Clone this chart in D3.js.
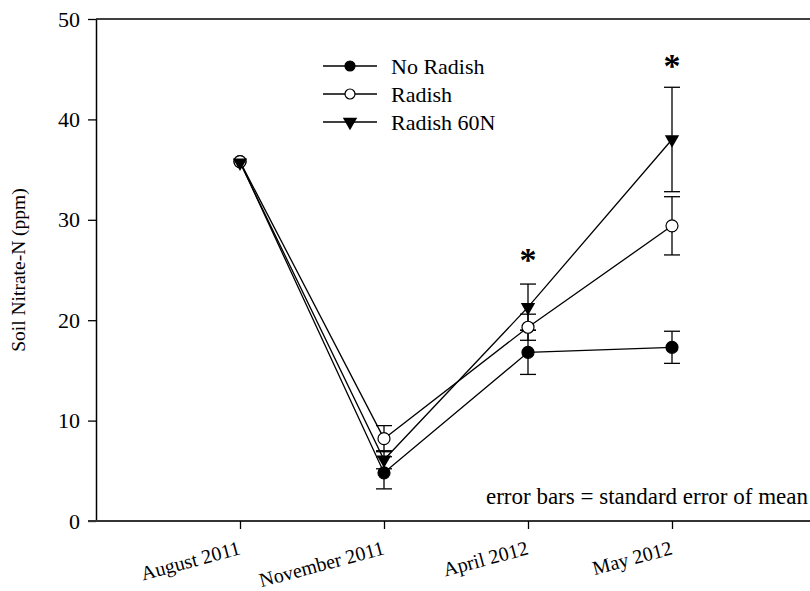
<!DOCTYPE html>
<html>
<head>
<meta charset="utf-8">
<script src="https://cdn.jsdelivr.net/npm/d3@7"></script>
<style>
    body { margin: 0; background: white; }
</style>
</head>
<body>
<div id="canvas"></div>
<script>
"use strict"

// DATA

let dates = ["August 2011", "November 2011", "April 2012", "May 2012"];
let seriesNames = ["No Radish", "Radish", "Radish 60N"];

let noRadish = [35.8, 4.8, 16.8, 17.3];
let noRadishSE = [0, 1.6, 2.2, 1.6];

let radish = [35.8, 8.2, 19.3, 29.4];
let radishSE = [0, 1.3, 1.3, 2.9];

let radish60N = [35.7, 6.1, 21.3, 38.0];
let radish60NSE = [0, 0.9, 2.3, 5.2];

let yTicks = [0, 10, 20, 30, 40, 50];

let starDates = ["April 2012", "May 2012"];
let starValues = [26.3, 45.6]; // centre of the asterisk, in ppm

let note = "error bars = standard error of mean";

// CANVAS

let svgWidth = 810;
let svgHeight = 591;

let leftEdge = 96;
let rightEdge = 816; // the frame runs off the right side
let topEdge = 19;
let bottomEdge = 521;

let serif = "'Liberation Serif', 'Times New Roman', serif";

let svg = d3.select("#canvas")
    .append("svg")
    .attr("width", svgWidth)
    .attr("height", svgHeight)
    .style("font-family", serif);

// SCALES

let xScale = d3.scalePoint()
    .domain(dates)
    .range([leftEdge, rightEdge])
    .padding(1);

let yScale = d3.scaleLinear()
    .domain([0, 50])
    .range([bottomEdge, topEdge]);

// series table built from the arrays
let series = [
    { name: seriesNames[0], values: noRadish, se: noRadishSE, symbol: "filled" },
    { name: seriesNames[1], values: radish, se: radishSE, symbol: "open" },
    { name: seriesNames[2], values: radish60N, se: radish60NSE, symbol: "triangle" }
];

series.forEach(function (s) {
    s.points = dates.map(function (d, i) {
        return { date: d, value: s.values[i], se: s.se[i] };
    });
});

// FRAME AND AXES

svg.append("line")
    .attr("x1", leftEdge)
    .attr("y1", topEdge)
    .attr("x2", rightEdge)
    .attr("y2", topEdge)
    .attr("stroke", "black")
    .attr("stroke-width", 1.3);

let yAxis = svg.append("g")
    .attr("transform", "translate(" + leftEdge + ",0)")
    .call(d3.axisLeft(yScale).tickValues(yTicks).tickSize(8).tickPadding(8).tickSizeOuter(0));

yAxis.select(".domain").attr("stroke-width", 1.5);
yAxis.selectAll(".tick line").attr("stroke-width", 1.3);
yAxis.selectAll(".tick text")
    .style("font-family", serif)
    .style("font-size", "22px");

let xAxis = svg.append("g")
    .attr("transform", "translate(0," + bottomEdge + ")")
    .call(d3.axisBottom(xScale).tickSize(8).tickSizeOuter(0));

xAxis.select(".domain")
    .attr("d", "M" + (leftEdge - 8) + ",0H" + rightEdge)
    .attr("stroke", "#333")
    .attr("stroke-width", 2.2);
xAxis.selectAll(".tick line").attr("stroke-width", 1.3);
xAxis.selectAll(".tick text")
    .style("font-family", serif)
    .style("font-size", "20px")
    .attr("text-anchor", "end")
    .attr("x", 0)
    .attr("y", 0)
    .attr("dy", 0)
    .attr("transform", "translate(1,33) rotate(-15)");

// y axis title
svg.append("text")
    .attr("transform", "translate(25," + ((topEdge + bottomEdge) / 2) + ") rotate(-90)")
    .attr("text-anchor", "middle")
    .style("font-family", serif)
    .style("font-size", "19.5px")
    .text("Soil Nitrate-N (ppm)");

// LINES

let line = d3.line()
    .x(function (p) { return xScale(p.date); })
    .y(function (p) { return yScale(p.value); });

svg.selectAll(".series-line")
    .data(series)
    .join("path")
    .attr("class", "series-line")
    .attr("fill", "none")
    .attr("stroke", "black")
    .attr("stroke-width", 1.3)
    .attr("d", function (s) { return line(s.points); });

// ERROR BARS

let capHalf = 8;

series.forEach(function (s) {
    let bars = s.points.filter(function (p) { return p.se > 0; });

    let g = svg.append("g").attr("class", "errors");

    g.selectAll(".stem")
        .data(bars)
        .join("line")
        .attr("x1", function (p) { return xScale(p.date); })
        .attr("x2", function (p) { return xScale(p.date); })
        .attr("y1", function (p) { return yScale(p.value - p.se); })
        .attr("y2", function (p) { return yScale(p.value + p.se); })
        .attr("stroke", "black")
        .attr("stroke-width", 1.3);

    [-1, 1].forEach(function (sign) {
        g.selectAll(".cap" + sign)
            .data(bars)
            .join("line")
            .attr("x1", function (p) { return xScale(p.date) - capHalf; })
            .attr("x2", function (p) { return xScale(p.date) + capHalf; })
            .attr("y1", function (p) { return yScale(p.value + sign * p.se); })
            .attr("y2", function (p) { return yScale(p.value + sign * p.se); })
            .attr("stroke", "black")
            .attr("stroke-width", 1.3);
    });
});

// MARKERS

let triangle = d3.symbol().type(d3.symbolTriangle).size(90);

function drawMarker(g, kind, x, y, r) {
    if (kind == "triangle") {
        g.append("path")
            .attr("d", triangle())
            .attr("transform", "translate(" + x + "," + y + ") rotate(180)")
            .attr("fill", "black");
    } else {
        g.append("circle")
            .attr("cx", x)
            .attr("cy", y)
            .attr("r", r)
            .attr("fill", kind == "filled" ? "black" : "white")
            .attr("stroke", "black")
            .attr("stroke-width", 1.2);
    }
}

let markers = svg.append("g");
series.forEach(function (s) {
    s.points.forEach(function (p) {
        drawMarker(markers, s.symbol, xScale(p.date), yScale(p.value), 6);
    });
});

// ASTERISKS

starDates.forEach(function (d, i) {
    svg.append("text")
        .attr("x", xScale(d))
        .attr("y", yScale(starValues[i]))
        .attr("dy", "0.42em")
        .attr("text-anchor", "middle")
        .style("font-family", serif)
        .style("font-weight", "bold")
        .style("font-size", "34px")
        .text("*");
});

// LEGEND

let legendX = 323;
let legendY = 66;
let legendGap = 28;

series.forEach(function (s, i) {
    let y = legendY + i * legendGap;
    svg.append("line")
        .attr("x1", legendX)
        .attr("x2", legendX + 54)
        .attr("y1", y)
        .attr("y2", y)
        .attr("stroke", "black")
        .attr("stroke-width", 1.3);
    drawMarker(svg, s.symbol, legendX + 27, y, 5);
    svg.append("text")
        .attr("x", legendX + 68)
        .attr("y", y)
        .attr("dy", "0.35em")
        .style("font-family", serif)
        .style("font-size", "22px")
        .text(s.name);
});

// NOTE

svg.append("text")
    .attr("x", 808)
    .attr("y", 504)
    .attr("text-anchor", "end")
    .style("font-family", serif)
    .style("font-size", "23px")
    .text(note);
</script>
</body>
</html>
